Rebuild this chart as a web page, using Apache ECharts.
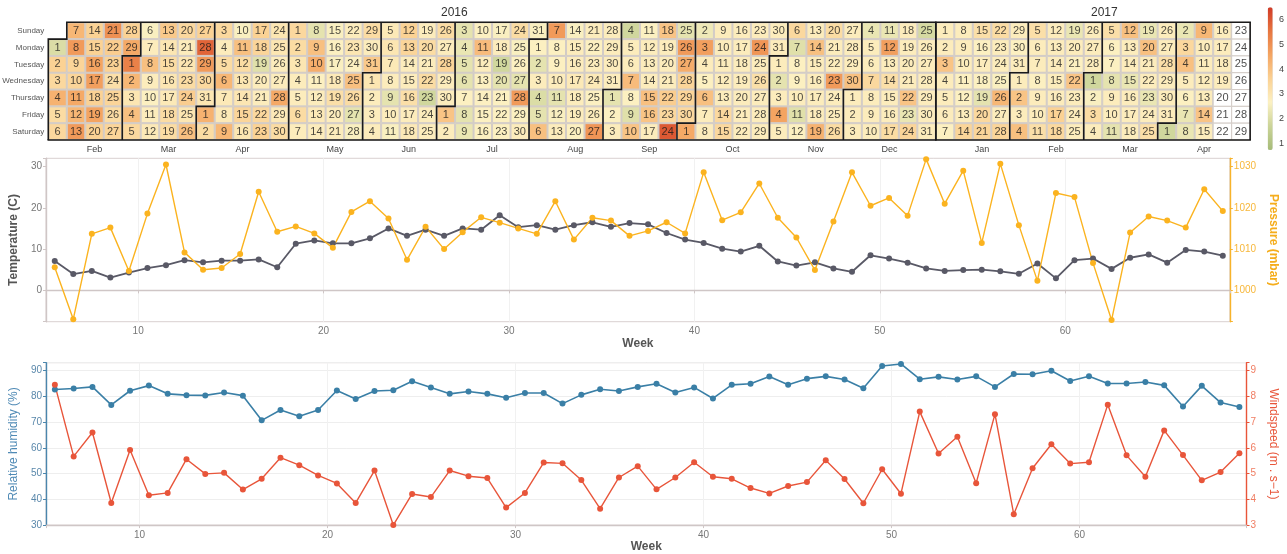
<!DOCTYPE html>
<html><head><meta charset="utf-8">
<script src="https://cdn.jsdelivr.net/npm/echarts@6/dist/echarts.min.js"></script>
<style>html,body{margin:0;padding:0;background:#fff}#c{width:1287px;height:554px}</style>
</head><body><div id="c"></div>
<script>
// ---------- DATA ----------
const calendarRanges = [['2016-02-01','2016-12-31'],['2017-01-01','2017-04-29']];
const dataStart = '2016-02-01';
const dayNames = ['Sunday','Monday','Tuesday','Wednesday','Thursday','Friday','Saturday'];
const yearLabels = ['2016','2017'];

const heat2016Feb = [2.0,3.6,3.4,4.3,3.3,3.4,4.2,4.8,3.5,3.5,4.5,4.2,4.8,3.6,3.6,4.6,4.7,3.6,4.6,3.6,5.0,3.7,3.6,3.2,3.5,3.3,3.5,3.6,4.5];
const heat2016Mar = [5.3,4.2,3.0,4.0,3.4,2.6,2.8,4.0,2.8,2.7,2.8,2.9,3.8,3.0,3.3,3.0,2.9,3.3,3.3,3.4,2.8,3.0,3.3,3.7,3.0,4.0,3.6,5.8,4.8,3.4,3.0];
const heat2016Apr = [4.3,3.3,3.4,2.8,3.3,4.2,2.9,2.9,4.2,2.6,4.0,3.3,3.0,3.0,3.5,3.0,3.6,3.5,2.1,2.8,2.8,3.4,3.6,3.0,3.0,2.8,2.8,4.5,2.9,3.3];
const heat2016May = [3.4,3.3,3.0,2.8,2.8,3.3,2.8,2.2,4.0,4.4,2.7,2.8,2.9,2.8,2.6,2.7,2.6,2.9,3.2,2.8,2.8,2.8,3.0,2.7,4.0,3.3,2.2,2.6,3.3,2.8,3.8];
const heat2016Jun = [3.0,2.8,2.8,2.8,2.9,3.0,2.9,2.8,2.2,2.8,2.6,3.6,3.5,2.8,2.8,3.2,2.8,2.9,2.8,3.3,2.8,3.3,1.8,2.8,2.8,3.3,2.8,3.5,2.8,2.8];
const heat2016Jul = [3.9,2.8,2.2,2.3,2.2,2.2,2.7,2.2,2.3,2.7,4.1,2.8,2.7,2.7,2.7,2.7,2.6,2.8,1.8,2.2,2.7,2.7,2.7,3.3,2.6,2.7,2.2,4.8,2.7,2.8,2.6];
const heat2016Aug = [2.7,2.2,2.8,2.0,2.2,4.0,4.8,2.7,2.7,2.8,2.2,2.6,2.8,2.6,2.8,2.8,2.9,2.8,2.8,2.7,2.8,2.7,2.8,2.9,2.7,2.8,4.9,2.8,2.8,2.8,2.8];
const heat2016Sep = [2.2,2.7,2.8,1.8,2.8,2.8,4.1,2.7,2.1,3.9,2.7,2.8,2.8,2.8,4.0,3.9,2.8,3.9,2.8,2.8,2.8,3.7,3.4,6.0,2.2,4.8,4.4,3.5,3.5,3.4];
const heat2016Oct = [4.5,2.4,4.7,2.8,2.7,4.0,2.8,2.8,2.8,2.8,2.8,2.8,2.8,3.4,3.4,2.8,2.8,2.8,2.8,2.8,2.8,2.8,2.8,4.9,2.8,3.2,2.8,2.8,2.8,2.8,2.8];
const heat2016Nov = [2.8,2.2,2.8,4.6,2.8,3.4,2.1,2.7,2.7,2.8,2.1,2.7,2.8,4.0,2.8,2.8,2.8,2.8,4.3,3.3,2.8,2.8,4.8,2.8,2.8,3.3,2.8,2.8,2.8,4.0];
const heat2016Dec = [2.8,2.8,2.8,2.3,2.8,2.8,3.4,2.8,2.8,2.8,2.3,4.7,2.8,3.2,2.8,2.8,3.3,2.8,2.8,2.8,2.8,3.9,2.3,3.5,1.9,2.8,2.8,2.8,2.8,2.8,2.8];
const heat2017Jan = [2.8,2.8,3.9,2.8,2.8,2.8,2.7,2.8,2.8,2.8,2.7,2.7,2.8,3.5,3.2,2.7,2.8,2.7,2.2,3.4,3.5,3.3,2.8,2.8,2.6,4.2,2.8,3.5,2.8,2.7,2.8];
const heat2017Feb = [2.8,3.9,2.8,4.0,3.2,2.8,2.8,2.7,2.8,2.8,3.2,2.8,2.8,2.8,2.8,2.8,3.6,3.4,2.3,2.8,2.7,3.9,2.8,2.8,2.8,2.8,2.8,2.8];
const heat2017Mar = [1.8,2.6,3.3,2.8,3.2,2.7,2.7,2.2,2.8,2.8,2.2,4.0,2.8,2.8,2.3,2.8,2.8,2.8,2.3,4.0,2.8,2.8,2.3,2.8,3.2,2.8,2.8,3.2,2.8,2.8,2.8];
const heat2017Apr = [1.8,2.3,3.4,4.0,2.8,2.7,2.3,2.3,4.2,2.8,2.8,2.8,2.8,3.9,2.8,2.8,2.8,2.8,2.8];

const weeks = [5.5,6.5,7.5,8.5,9.5,10.5,11.5,12.5,13.5,14.5,15.5,16.5,17.5,18.5,19.5,20.5,21.5,22.5,23.5,24.5,25.5,26.5,27.5,28.5,29.5,30.5,31.5,32.5,33.5,34.5,35.5,36.5,37.5,38.5,39.5,40.5,41.5,42.5,43.5,44.5,45.5,46.5,47.5,48.5,49.5,50.5,51.5,52.5,53.5,54.5,55.5,56.5,57.5,58.5,59.5,60.5,61.5,62.5,63.5,64.5,65.5,66.5,67.5,68.5];
const temperature = [7.1,3.95,4.7,3.1,4.3,5.4,6.1,7.3,6.8,7.2,7.2,7.5,5.6,11.3,12.1,11.4,11.4,12.6,15.0,13.2,14.7,13.2,15.0,14.7,18.2,15.3,15.8,14.7,15.8,16.5,15.4,16.3,16.0,13.9,12.3,11.5,10.1,9.4,10.8,7.0,6.0,6.8,5.3,4.5,8.5,7.7,6.7,5.3,4.7,4.9,5.0,4.6,4.0,6.5,2.9,7.3,7.7,5.2,7.9,8.7,6.7,9.8,9.4,8.4];
const pressure = [1005.6,993.0,1013.7,1015.2,1004.7,1018.6,1030.5,1009.2,1005.0,1005.4,1008.8,1023.9,1014.2,1015.5,1013.8,1010.3,1019.0,1021.6,1017.4,1007.4,1015.4,1010.0,1014.1,1017.7,1016.4,1015.0,1013.7,1021.6,1012.3,1017.6,1016.9,1013.2,1014.4,1016.5,1013.8,1028.6,1017.0,1018.9,1025.9,1017.6,1012.8,1004.9,1016.7,1028.6,1020.5,1022.4,1018.1,1031.8,1021.0,1029.0,1011.5,1030.7,1015.8,1002.3,1023.6,1022.6,1006.6,992.8,1014.0,1017.9,1016.9,1015.2,1024.5,1019.2];
const humidity = [82.7,83.1,83.7,76.7,82.2,84.2,81.0,80.5,80.4,81.5,80.3,70.7,74.7,72.3,74.7,82.3,79.0,82.1,82.4,85.9,83.5,81.0,81.9,81.0,79.5,81.3,81.3,77.2,80.6,82.8,82.1,83.7,84.9,81.5,83.5,79.2,84.5,84.9,87.7,84.5,86.9,87.8,86.6,83.2,91.8,92.6,86.7,87.6,86.6,87.8,83.7,88.7,88.6,90.0,86.0,87.8,85.0,85.0,85.6,84.3,76.1,84.1,77.6,75.9];
const windspeed = [8.45,5.67,6.60,3.86,5.92,4.16,4.25,5.56,4.99,5.03,4.38,4.80,5.62,5.33,4.93,4.62,3.86,5.12,3.0,4.21,4.09,5.12,4.90,4.83,3.68,4.25,5.43,5.40,4.75,3.64,4.85,5.29,4.39,4.85,5.44,4.88,4.80,4.44,4.23,4.52,4.67,5.52,4.79,3.85,5.17,4.22,7.41,5.78,6.43,4.63,7.31,3.42,5.21,6.14,5.39,5.44,7.68,5.71,4.88,6.68,5.72,4.74,5.06,5.79];

// ---------- HELPERS ----------
function fmt(t){const d=new Date(t);return d.getUTCFullYear()+'-'+String(d.getUTCMonth()+1).padStart(2,'0')+'-'+String(d.getUTCDate()).padStart(2,'0');}
function dateRange(a,b){const out=[];let t=Date.parse(a+'T00:00:00Z');const e=Date.parse(b+'T00:00:00Z');while(t<=e){out.push(fmt(t));t+=86400000;}return out;}

const heatValues = [].concat(heat2016Feb,heat2016Mar,heat2016Apr,heat2016May,heat2016Jun,heat2016Jul,heat2016Aug,heat2016Sep,heat2016Oct,heat2016Nov,heat2016Dec,heat2017Jan,heat2017Feb,heat2017Mar,heat2017Apr);
const heatAll = [];
{let t=Date.parse(dataStart+'T00:00:00Z');heatValues.forEach(v=>{heatAll.push([fmt(t),v]);t+=86400000;});}
const heat2016 = heatAll.filter(d=>d[0]<'2017');
const heat2017 = heatAll.filter(d=>d[0]>='2017');
const labels2016 = dateRange(calendarRanges[0][0],calendarRanges[0][1]).map(d=>[d,0]);
const labels2017 = dateRange(calendarRanges[1][0],calendarRanges[1][1]).map(d=>[d,0]);

const FONT = 'Liberation Sans, Arial, sans-serif';
const every10 = v => Math.abs(v - Math.round(v/10)*10) < 1e-6 ? String(Math.round(v)) : '';
const every1 = v => Math.abs(v - Math.round(v)) < 1e-6 ? String(Math.round(v)) : '';

const cellW = 18.49, cellH = 16.81;
function calendarCfg(i, left, showDays){
  return {
    left: left, top: 22.3, cellSize: [cellW, cellH], range: calendarRanges[i], orient: 'horizontal',
    splitLine: {show: true, lineStyle: {color: '#1a1a1a', width: 1.6}},
    itemStyle: {color: '#ffffff', borderColor: '#d2cbc6', borderWidth: 1},
    dayLabel: {show: showDays, firstDay: 0, nameMap: dayNames, position: 'start', margin: 4, fontSize: 8, color: '#555', fontFamily: FONT},
    monthLabel: {show: true, nameMap: 'EN', position: 'end', margin: 5, fontSize: 9, color: '#444', fontFamily: FONT},
    yearLabel: {show: false}
  };
}
function heatSeries(ci, data){
  return {type: 'heatmap', coordinateSystem: 'calendar', calendarIndex: ci, data: data,
    itemStyle: {borderColor: '#d2cbc6', borderWidth: 1}, silent: true};
}
function labelSeries(ci, data){
  return {type: 'scatter', coordinateSystem: 'calendar', calendarIndex: ci, data: data, z: 5,
    symbol: 'rect', symbolSize: 1, itemStyle: {color: 'rgba(0,0,0,0)'}, silent: true,
    label: {show: true, position: 'inside', formatter: p => String(+p.value[0].slice(8)),
      color: '#1a1a1a', fontSize: 11, fontFamily: FONT}};
}
function lineSeries(name, xi, yi, xs, ys, color, w){
  return {name: name, type: 'line', xAxisIndex: xi, yAxisIndex: yi, data: xs.map((x,i)=>[x, ys[i]]),
    symbol: 'circle', symbolSize: 6, showSymbol: true, lineStyle: {color: color, width: w},
    itemStyle: {color: color}, silent: true, z: 3};
}
const grayLine = '#cfc6c6';
function xAxisCfg(gi, nameGap){
  return {type: 'value', gridIndex: gi, min: 5.03, max: 68.88,
    axisLine: {show: true, lineStyle: {color: grayLine, width: 1.4}},
    axisTick: {show: true, length: 3, lineStyle: {color: grayLine}},
    axisLabel: {color: '#777', fontSize: 10, margin: 5, formatter: every10, fontFamily: FONT},
    splitLine: {show: true, lineStyle: {color: '#f1f1f1', width: 1}},
    name: 'Week', nameLocation: 'middle', nameGap: nameGap,
    nameTextStyle: {fontWeight: 'bold', fontSize: 12, color: '#555', fontFamily: FONT}};
}
function yAxisCfg(gi, pos, min, max, lineColor, labelColor, name, nameColor, nameGap, bold, split){
  return {type: 'value', gridIndex: gi, position: pos, min: min, max: max,
    axisLine: {show: true, lineStyle: {color: lineColor, width: 1.4}},
    axisTick: {show: true, length: 3, lineStyle: {color: lineColor}},
    axisLabel: {color: labelColor, fontSize: 10, margin: 4, formatter: every10 === null ? null : (pos && max < 20 ? every1 : every10), fontFamily: FONT},
    splitLine: {show: split, lineStyle: {color: '#eeeeee', width: 1}},
    name: name, nameLocation: 'middle', nameGap: nameGap, nameRotate: pos === 'left' ? 90 : -90,
    nameTextStyle: {fontWeight: bold ? 'bold' : 'normal', fontSize: 12, color: nameColor, fontFamily: FONT}};
}

const option = {
  animation: false,
  textStyle: {fontFamily: FONT},
  calendar: [calendarCfg(0, 48.3, true), calendarCfg(1, 48.3 + 48*cellW, false)],
  graphic: [
    {type: 'text', left: 441, top: 7, style: {text: yearLabels[0], fontSize: 12, fill: '#333', fontFamily: FONT}},
    {type: 'text', left: 1091, top: 7, style: {text: yearLabels[1], fontSize: 12, fill: '#333', fontFamily: FONT}}
  ],
  visualMap: {
    type: 'continuous', min: 0.73, max: 6.51, seriesIndex: [0,1], calculable: false,
    orient: 'vertical', left: 1267.7, top: 7.3, padding: 0, itemWidth: 5, itemHeight: 142.7,
    text: null, hoverLink: false,
    inRange: {color: ['#a6bb78','#cbd498','#fcf1c3','#fbd193','#f4a562','#e7753f','#d13a26']}
  },
  grid: [
    {left: 44.3, top: 158.3, width: 1202.7, height: 163.4, show: true, borderColor: '#d9d0d0', borderWidth: 1, backgroundColor: 'transparent'},
    {left: 44.3, top: 362.7, width: 1216.7, height: 163, show: true, borderColor: '#d9d0d0', borderWidth: 1, backgroundColor: 'transparent'},
    {left: 1267.7, top: 7.3, width: 5, height: 142.7, show: false}
  ],
  xAxis: [xAxisCfg(0, 16), xAxisCfg(1, 14),
    {type: 'value', gridIndex: 2, show: false, min: 0, max: 1}],
  yAxis: [
    yAxisCfg(0, 'left', -7.6, 32.0, grayLine, '#777', 'Temperature (C)', '#555', 15, true, false),
    yAxisCfg(0, 'right', 992.4, 1032.0, '#f7b32b', '#f7b73a', 'Pressure (mbar)', '#f5ad1c', 26, true, false),
    yAxisCfg(1, 'left', 30, 93.1, '#4a86ad', '#5a88ab', 'Relative humidity (%)', '#4f8ab5', 16, false, true),
    Object.assign(yAxisCfg(1, 'right', 3.0, 9.31, '#e8553a', '#f07d62', 'Windspeed (m . s\u22121)', '#e8553a', 10, false, false), {}),
    {type: 'value', gridIndex: 2, position: 'right', min: 0.73, max: 6.51,
      axisLine: {show: false}, axisTick: {show: false}, splitLine: {show: false},
      axisLabel: {color: '#444', fontSize: 9, margin: 8, formatter: every1, fontFamily: FONT}}
  ],
  series: [
    heatSeries(0, heat2016), heatSeries(1, heat2017),
    labelSeries(0, labels2016), labelSeries(1, labels2017),
    lineSeries('Temperature', 0, 0, weeks, temperature, '#595966', 1.8),
    lineSeries('Pressure', 0, 1, weeks, pressure, '#fbb31f', 1.4),
    lineSeries('Relative humidity', 1, 2, weeks, humidity, '#3a7fa6', 1.6),
    lineSeries('Windspeed', 1, 3, weeks, windspeed, '#e8553a', 1.4)
  ]
};
const chart = echarts.init(document.getElementById('c'), null, {renderer: 'canvas'});
chart.setOption(option);
</script></body></html>
